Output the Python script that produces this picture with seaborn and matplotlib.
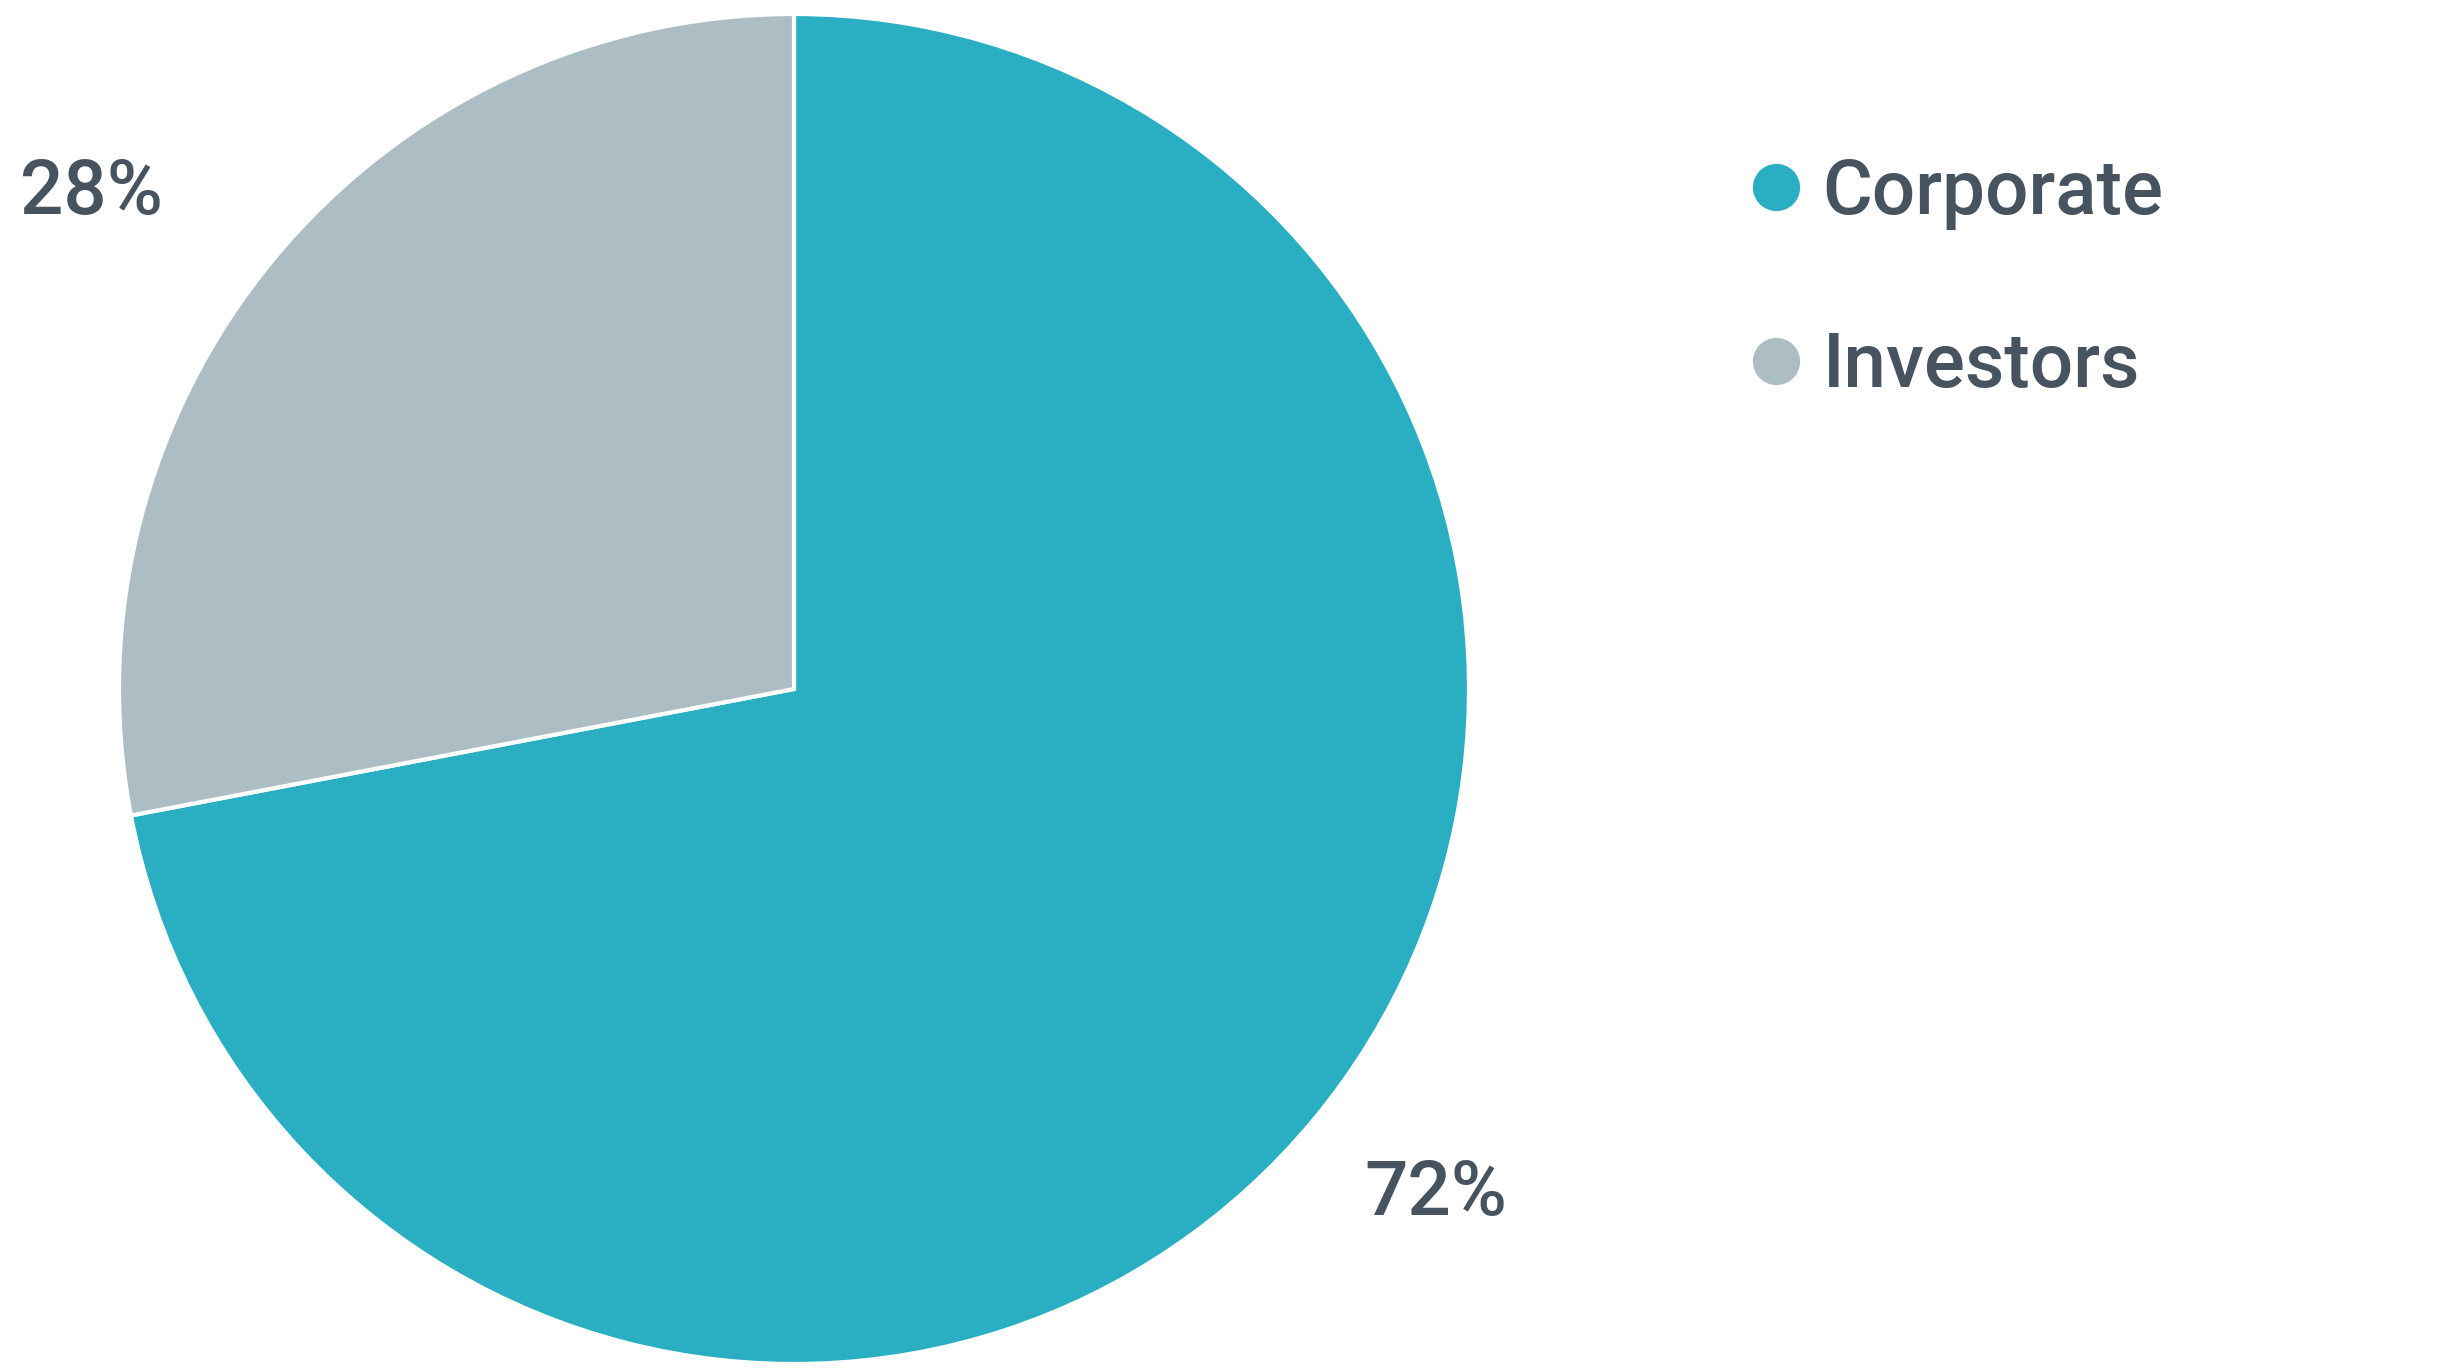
import matplotlib
matplotlib.use("Agg")
import matplotlib.pyplot as plt
from matplotlib.lines import Line2D
import numpy as np
import seaborn as sns

# data
categories = ["Corporate", "Investors"]
shares = [72, 28]
pct_labels = ["72%", "28%"]
colors = ["#2aafc2", "#acbec3"]
text_color = "#47535e"

sns.set_theme(style="white")
plt.rcParams["font.family"] = ["Roboto", "Liberation Sans", "DejaVu Sans"]

fig = plt.figure(figsize=(24.61, 13.72), dpi=100)
W, H = 2461, 1372
cx, cy, r = 794, 689, 675
ax = fig.add_axes([(cx - r) / W, (H - cy - r) / H, 2 * r / W, 2 * r / H])

wedges, texts = ax.pie(
    shares,
    labels=pct_labels,
    colors=colors,
    startangle=90,
    counterclock=False,
    radius=1,
    wedgeprops=dict(edgecolor="white", linewidth=3),
    textprops=dict(color=text_color, fontsize=55, fontweight="medium"),
)
# place labels a bit outside the wedges (angle nudge, radial distance)
nudges = [(1.4, 1.21), (4.4, 1.274)]
for w, t, (da, dist) in zip(wedges, texts, nudges):
    ang = np.deg2rad((w.theta1 + w.theta2) / 2 + da)
    t.set_position((dist * np.cos(ang), dist * np.sin(ang)))
    t.set_ha("center")
    t.set_va("center")
ax.set_xlim(-1, 1)
ax.set_ylim(-1, 1)
ax.set_aspect("auto")
ax.axis("off")

handles = [
    Line2D([], [], marker="o", linestyle="", markersize=34, color=c, markeredgewidth=0)
    for c in colors
]
leg = fig.legend(
    handles,
    categories,
    loc="upper left",
    bbox_to_anchor=(1711 / W, 1 - 119 / H),
    frameon=False,
    labelcolor=text_color,
    handlelength=0.7,
    handletextpad=0.26,
    labelspacing=1.31,
    borderpad=0,
    prop=dict(weight="medium", size=55),
)

fig.savefig("out.png", dpi=100, facecolor="white")
